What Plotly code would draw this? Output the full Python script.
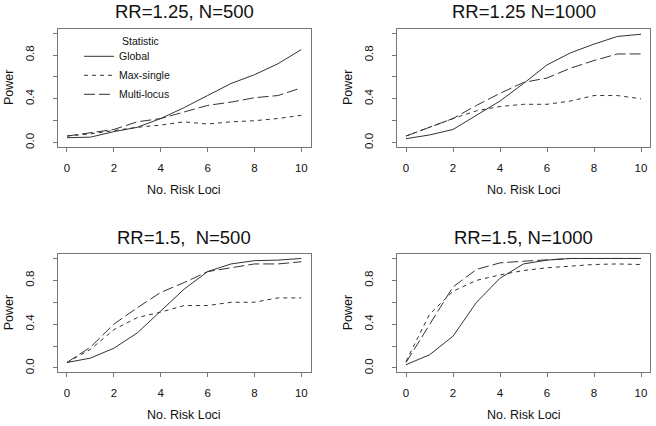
import plotly.graph_objects as go

# ---------------- data ----------------
loci = [0, 1, 2, 3, 4, 5, 6, 7, 8, 9, 10]

# RR=1.25, N=500
a_global = [0.045, 0.05, 0.10, 0.14, 0.22, 0.32, 0.43, 0.54, 0.62, 0.72, 0.85]
a_max    = [0.06, 0.08, 0.11, 0.14, 0.16, 0.19, 0.17, 0.19, 0.20, 0.22, 0.25]
a_multi  = [0.06, 0.09, 0.12, 0.19, 0.22, 0.28, 0.34, 0.37, 0.41, 0.43, 0.50]

# RR=1.25 N=1000
b_global = [0.036, 0.07, 0.12, 0.25, 0.38, 0.54, 0.71, 0.82, 0.90, 0.97, 0.99]
b_max    = [0.06, 0.14, 0.22, 0.29, 0.33, 0.35, 0.35, 0.38, 0.43, 0.43, 0.40]
b_multi  = [0.06, 0.14, 0.22, 0.34, 0.45, 0.55, 0.59, 0.68, 0.75, 0.81, 0.81]

# RR=1.5, N=500
c_global = [0.05, 0.09, 0.18, 0.32, 0.52, 0.72, 0.88, 0.95, 0.98, 0.985, 1.00]
c_max    = [0.05, 0.17, 0.35, 0.46, 0.51, 0.57, 0.57, 0.60, 0.60, 0.64, 0.64]
c_multi  = [0.05, 0.19, 0.40, 0.55, 0.69, 0.78, 0.88, 0.915, 0.95, 0.95, 0.97]

# RR=1.5, N=1000
d_global = [0.03, 0.12, 0.29, 0.60, 0.82, 0.95, 0.985, 1.00, 1.00, 1.00, 1.00]
d_max    = [0.06, 0.49, 0.70, 0.80, 0.85, 0.89, 0.915, 0.93, 0.945, 0.95, 0.945]
d_multi  = [0.05, 0.40, 0.74, 0.90, 0.96, 0.975, 0.99, 1.00, 1.00, 1.00, 1.00]

titles = ["RR=1.25, N=500", "RR=1.25 N=1000", "RR=1.5,  N=500", "RR=1.5, N=1000"]
series_names = ["Global", "Max-single", "Multi-locus"]
x_ticks = [0, 2, 4, 6, 8, 10]
y_ticks = [0.0, 0.2, 0.4, 0.6, 0.8, 1.0]
y_ticktext = ["0.0", "", "0.4", "", "0.8", ""]
x_label = "No. Risk Loci"
y_label = "Power"

panels = [
    (a_global, a_max, a_multi),
    (b_global, b_max, b_multi),
    (c_global, c_max, c_multi),
    (d_global, d_max, d_multi),
]

# ---------------- styling ----------------
W, H = 656, 426
FONT = "Liberation Sans, Arial, Helvetica, sans-serif"
LINE_COL = "#333333"
BOX_COL = "#777777"
TXT_COL = "#111111"
dashes = ["solid", "4px,4px", "11px,4px"]

# plot boxes in window pixels (left, right, top, bottom)
boxes = [
    (57.6, 310.7, 28.9, 147.7),
    (396.6, 650.4, 28.9, 147.7),
    (57.6, 310.7, 255.3, 374.1),
    (396.6, 650.4, 255.3, 374.1),
]


def px(xw):
    return xw / W


def py(yw):
    return 1 - yw / H


fig = go.Figure()

for i, (vals, box) in enumerate(zip(panels, boxes)):
    xa = "x" if i == 0 else f"x{i+1}"
    ya = "y" if i == 0 else f"y{i+1}"
    for j, (name, v) in enumerate(zip(series_names, vals)):
        fig.add_trace(go.Scatter(
            x=loci, y=v, mode="lines", name=name,
            line=dict(color=LINE_COL, width=1, dash=dashes[j]),
            xaxis=xa, yaxis=ya, showlegend=(i == 0), hoverinfo="skip",
        ))

    l, r, t, b = box
    xkey = "xaxis" if i == 0 else f"xaxis{i+1}"
    ykey = "yaxis" if i == 0 else f"yaxis{i+1}"
    fig.update_layout(**{
        xkey: dict(
            domain=[px(l), px(r)], range=[-0.4, 10.4], anchor=ya,
            tickvals=x_ticks, ticks="outside", ticklen=4, tickcolor=BOX_COL,
            showline=True, linecolor=BOX_COL, linewidth=1, mirror=True,
            showgrid=False, zeroline=False,
            tickfont=dict(family=FONT, size=11.5, color=TXT_COL),
            ticklabelstandoff=6,
        ),
        ykey: dict(
            domain=[py(b), py(t)], range=[-0.04, 1.04], anchor=xa,
            tickvals=y_ticks, ticktext=y_ticktext, tickangle=-90,
            ticks="outside", ticklen=4, tickcolor=BOX_COL,
            showline=True, linecolor=BOX_COL, linewidth=1, mirror=True,
            showgrid=False, zeroline=False,
            tickfont=dict(family=FONT, size=11.5, color=TXT_COL),
            ticklabelstandoff=14,
        ),
    })

    cx = (l + r) / 2
    # panel title
    fig.add_annotation(text=titles[i], x=px(cx), y=py(t - 17),
                       xref="paper", yref="paper", showarrow=False,
                       xanchor="center", yanchor="middle",
                       font=dict(family=FONT, size=18.5, color=TXT_COL))
    # x axis title
    fig.add_annotation(text=x_label, x=px(cx), y=py(b + 43),
                       xref="paper", yref="paper", showarrow=False,
                       xanchor="center", yanchor="middle",
                       font=dict(family=FONT, size=12.5, color=TXT_COL))
    # y axis title
    fig.add_annotation(text=y_label, x=px(l - 48.5), y=py((t + b) / 2),
                       xref="paper", yref="paper", showarrow=False, textangle=-90,
                       xanchor="center", yanchor="middle",
                       font=dict(family=FONT, size=12.5, color=TXT_COL))

# legend heading
fig.add_annotation(text="Statistic", x=px(119.5), y=py(41),
                   xref="paper", yref="paper", showarrow=False,
                   xanchor="left", yanchor="middle",
                   font=dict(family=FONT, size=10.5, color=TXT_COL))

fig.update_layout(
    width=W, height=H,
    margin=dict(l=0, r=0, t=0, b=0),
    paper_bgcolor="white", plot_bgcolor="white",
    showlegend=True,
    legend=dict(x=px(79), y=py(42), xanchor="left", yanchor="top",
                bgcolor="rgba(0,0,0,0)", borderwidth=0, itemwidth=30,
                font=dict(family=FONT, size=10.5, color=TXT_COL)),
)

# remove the default page margin so the 656x426 figure fills the window
fig.write_html(
    "out.html",
    config={"displayModeBar": False},
    post_script="document.body.style.margin='0';document.body.style.overflow='hidden';",
)
